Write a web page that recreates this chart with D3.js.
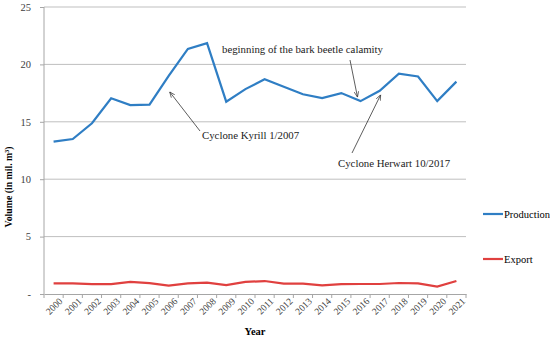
<!DOCTYPE html>
<html>
<head>
<meta charset="utf-8">
<style>
body { margin: 0; background: #fff; }
svg, svg text { font-family: "Liberation Serif", serif; }
.grid line { stroke: #bfbfbf; stroke-width: 1; }
.axis path, .axis line { stroke: #a6a6a6; }
.axis text { fill: #404040; }
.note { font-size: 10.8px; fill: #222; }
</style>
</head>
<body>
<svg width="550" height="341"></svg>
<script src="https://cdn.jsdelivr.net/npm/d3@7"></script>
<script>
var years = ["2000","2001","2002","2003","2004","2005","2006","2007","2008","2009","2010",
             "2011","2012","2013","2014","2015","2016","2017","2018","2019","2020","2021"];
var production = [13.27, 13.5, 14.87, 17.05, 16.46, 16.5, 19.0, 21.35, 21.85, 16.75, 17.85,
                  18.7, 18.06, 17.4, 17.07, 17.5, 16.8, 17.7, 19.2, 18.95, 16.8, 18.5];
var exportVol = [0.93, 0.93, 0.86, 0.86, 1.05, 0.95, 0.73, 0.93, 0.99, 0.78, 1.05,
                 1.13, 0.9, 0.9, 0.75, 0.86, 0.87, 0.87, 0.96, 0.93, 0.64, 1.13];
var yTicks = [0, 5, 10, 15, 20, 25];
var seriesNames = ["Production", "Export"];

var svg = d3.select("svg"),
    margin = {top: 7, right: 84, bottom: 47, left: 44},
    width = +svg.attr("width") - margin.left - margin.right,
    height = +svg.attr("height") - margin.top - margin.bottom,
    g = svg.append("g").attr("transform", "translate(" + margin.left + "," + margin.top + ")");

var x = d3.scaleBand().domain(years).range([0, width]);
var y = d3.scaleLinear().domain([0, 25]).range([height, 0]);
var z = d3.scaleOrdinal().domain(seriesNames).range(["#2f7ec4", "#e0403f"]);

// gridlines
g.append("g")
    .attr("class", "grid")
  .selectAll("line")
  .data(yTicks.slice(1))
  .enter().append("line")
    .attr("x1", 0)
    .attr("x2", width)
    .attr("y1", function(d) { return y(d); })
    .attr("y2", function(d) { return y(d); });

// y axis
var yAxis = g.append("g")
    .attr("class", "axis")
    .call(d3.axisLeft(y).tickValues(yTicks).tickSize(4).tickPadding(9)
      .tickFormat(function(d) { return d === 0 ? "-" : d; }))
    .attr("font-family", null);
yAxis.selectAll("text").style("font-size", "10.5px");
yAxis.select(".domain").attr("d", "M0," + height + "V0");

// x axis, ticks on band edges
var xAxis = g.append("g")
    .attr("class", "axis")
    .attr("transform", "translate(0," + height + ")")
    .call(d3.axisBottom(x).tickSize(0).tickSizeOuter(0))
    .attr("font-family", null);
xAxis.selectAll(".tick text")
    .style("font-size", "9.5px")
    .attr("text-anchor", "end")
    .attr("transform", "translate(" + (x.bandwidth() / 2 - 1) + ",4) rotate(-45)")
    .attr("dy", "0.35em")
    .attr("y", 0)
    .attr("x", -2);
xAxis.selectAll(".edge")
  .data(years.concat(["end"]))
  .enter().append("line")
    .attr("class", "edge")
    .attr("x1", function(d, i) { return i * x.step(); })
    .attr("x2", function(d, i) { return i * x.step(); })
    .attr("y1", 0)
    .attr("y2", 4)
    .attr("stroke", "#a6a6a6");

var line = d3.line()
    .x(function(d, i) { return x(years[i]) + x.bandwidth() / 2; })
    .y(function(d) { return y(d); });

g.append("path")
    .datum(production)
    .attr("fill", "none")
    .attr("stroke", z("Production"))
    .attr("stroke-width", 2.2)
    .attr("d", line);

g.append("path")
    .datum(exportVol)
    .attr("fill", "none")
    .attr("stroke", z("Export"))
    .attr("stroke-width", 2.2)
    .attr("d", line);

// axis titles
svg.append("text")
    .attr("transform", "translate(12,187) rotate(-90)")
    .attr("text-anchor", "middle")
    .style("font-size", "9.8px")
    .style("font-weight", "bold")
    .text("Volume (in mil. m³)");

svg.append("text")
    .attr("x", margin.left + width / 2)
    .attr("y", 335)
    .attr("text-anchor", "middle")
    .style("font-size", "10.5px")
    .style("font-weight", "bold")
    .text("Year");

// legend
var legend = svg.selectAll(".legend")
  .data(seriesNames)
  .enter().append("g")
    .attr("class", "legend")
    .attr("transform", function(d, i) { return "translate(483," + (214 + i * 45) + ")"; });
legend.append("line")
    .attr("x1", 0).attr("x2", 20)
    .attr("stroke", z)
    .attr("stroke-width", 2.2);
legend.append("text")
    .attr("x", 21)
    .attr("dy", "0.35em")
    .style("font-size", "10.5px")
    .text(function(d) { return d; });

// annotations
svg.append("defs").append("marker")
    .attr("id", "arrow")
    .attr("viewBox", "0 0 10 10")
    .attr("refX", 10).attr("refY", 5)
    .attr("markerWidth", 7).attr("markerHeight", 7)
    .attr("orient", "auto")
  .append("path")
    .attr("d", "M0,1L10,5L0,9")
    .attr("fill", "none")
    .attr("stroke", "#333")
    .attr("stroke-width", 1.2);

function px(yr) { return margin.left + x(yr) + x.bandwidth() / 2; }
function py(v) { return margin.top + y(v); }

var notes = [
  {text: "beginning of the bark beetle calamity", tx: 222, ty: 53, from: [350, 60], to: [px("2016") - 3, py(16.8) - 4]},
  {text: "Cyclone Kyrill 1/2007", tx: 202, ty: 139, from: [200, 131], to: [px("2006") + 1, py(19.0) + 16]},
  {text: "Cyclone Herwart 10/2017", tx: 338, ty: 167, from: [352, 153], to: [px("2017") + 1, py(17.7) + 4]}
];
notes.forEach(function(n) {
  svg.append("text").attr("class", "note").attr("x", n.tx).attr("y", n.ty).text(n.text);
  svg.append("line")
      .attr("x1", n.from[0]).attr("y1", n.from[1])
      .attr("x2", n.to[0]).attr("y2", n.to[1])
      .attr("stroke", "#333").attr("stroke-width", 0.8)
      .attr("marker-end", "url(#arrow)");
});
</script>
</body>
</html>
